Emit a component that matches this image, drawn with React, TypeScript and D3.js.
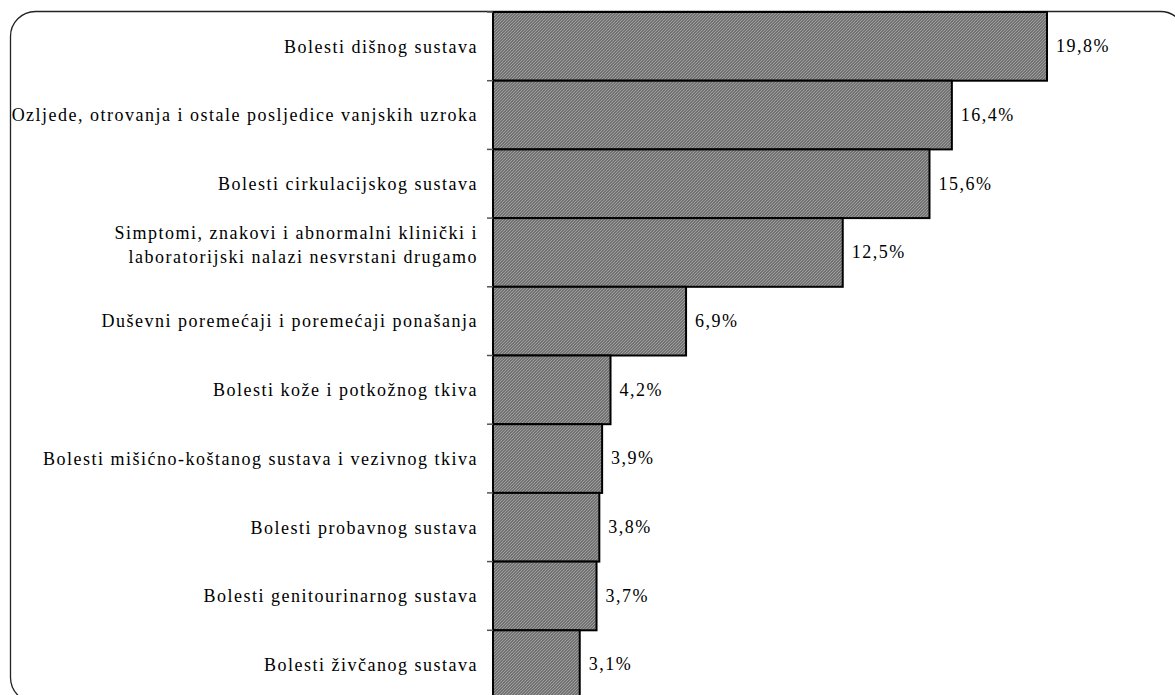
import React from "react";
import * as d3 from "d3";

const categories: string[][] = [
  ["Bolesti dišnog sustava"],
  ["Ozljede, otrovanja i ostale posljedice vanjskih uzroka"],
  ["Bolesti cirkulacijskog sustava"],
  ["Simptomi, znakovi i abnormalni klinički i", "laboratorijski nalazi nesvrstani drugamo"],
  ["Duševni poremećaji i poremećaji ponašanja"],
  ["Bolesti kože i potkožnog tkiva"],
  ["Bolesti mišićno-koštanog sustava i vezivnog tkiva"],
  ["Bolesti probavnog sustava"],
  ["Bolesti genitourinarnog sustava"],
  ["Bolesti živčanog sustava"],
];
const values: number[] = [19.8, 16.4, 15.6, 12.5, 6.9, 4.2, 3.9, 3.8, 3.7, 3.1];
const valueLabels: string[] = ["19,8%", "16,4%", "15,6%", "12,5%", "6,9%", "4,2%", "3,9%", "3,8%", "3,7%", "3,1%"];

const W = 1175;
const H = 695;
const axisX = 493;
const top = 12;
const bottom = 699;

export default function App() {
  const x = d3.scaleLinear().domain([0, 19.8]).range([axisX, 1047]);
  const y = d3
    .scaleBand<number>()
    .domain(values.map((_, i) => i))
    .range([top, bottom])
    .padding(0);
  const font = "'Liberation Serif', 'Times New Roman', serif";
  const fs = 18;
  const ls = 1.5;
  return (
    <svg
      width={W}
      height={H}
      style={{ position: "absolute", left: 0, top: 0, background: "#fff" }}
    >
      <defs>
        <pattern id="hatch" width="3" height="3" patternUnits="userSpaceOnUse">
          <rect width="3" height="3" fill="#737373" />
          <path d="M0,3 L3,0" stroke="#9c9c9c" strokeWidth="1" />
        </pattern>
      </defs>
      {/* rounded frame, partially cropped */}
      <rect x={10.5} y={11.5} width={1175} height={691} rx={25} ry={25} fill="none" stroke="#222" strokeWidth={1.3} />
      {/* bars */}
      {values.map((v, i) => (
        <rect
          key={i}
          x={axisX}
          y={y(i)!}
          width={x(v) - axisX}
          height={y.bandwidth()}
          fill="url(#hatch)"
          stroke="#000"
          strokeWidth={2}
        />
      ))}
      {/* axis */}
      <line x1={axisX} x2={axisX} y1={top} y2={H} stroke="#000" strokeWidth={2} />
      {values.map((_, i) => (
        <line key={i} x1={axisX - 6} x2={axisX} y1={y(i)!} y2={y(i)!} stroke="#555" strokeWidth={1.5} />
      ))}
      {/* category labels */}
      {categories.map((lines, i) => {
        const cy = y(i)! + y.bandwidth() / 2;
        const lh = 24;
        const y0 = cy - ((lines.length - 1) * lh) / 2 - (lines.length > 1 ? 8 : 0);
        return (
          <text
            key={i}
            x={478}
            textAnchor="end"
            fontFamily={font}
            fontSize={fs}
            letterSpacing={ls}
            fill="#000"
          >
            {lines.map((l, j) => (
              <tspan key={j} x={478} y={y0 + j * lh} dy="0.35em">
                {l}
              </tspan>
            ))}
          </text>
        );
      })}
      {/* value labels */}
      {values.map((v, i) => (
        <text
          key={i}
          x={x(v) + 9}
          y={y(i)! + y.bandwidth() / 2 - 0.5}
          dy="0.35em"
          fontFamily={font}
          fontSize={fs}
          letterSpacing={ls}
          fill="#000"
        >
          {valueLabels[i]}
        </text>
      ))}
    </svg>
  );
}
